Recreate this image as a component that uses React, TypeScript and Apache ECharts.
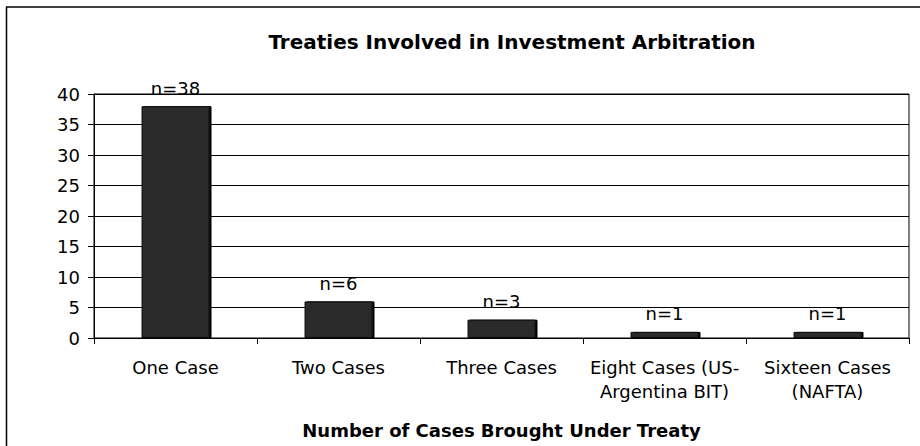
import React, { useEffect, useRef } from "react";
import * as echarts from "echarts";

const categories = [
  "One Case",
  "Two Cases",
  "Three Cases",
  "Eight Cases (US-\nArgentina BIT)",
  "Sixteen Cases\n(NAFTA)",
];
const values = [38, 6, 3, 1, 1];
const yTicks = { min: 0, max: 40, interval: 5 };
const titleText = "Treaties Involved in Investment Arbitration";
const xAxisName = "Number of Cases Brought Under Treaty";

const FONT = "'DejaVu Sans', Verdana, sans-serif";

export default function App() {
  const ref = useRef<HTMLDivElement>(null);
  useEffect(() => {
    if (!ref.current) return;
    const chart = echarts.init(ref.current, undefined, { renderer: "svg" });
    chart.setOption({
      animation: false,
      backgroundColor: "#fff",
      textStyle: { fontFamily: FONT },
      title: {
        text: titleText,
        left: 507,
        textAlign: "center",
        top: 27,
        textStyle: { fontFamily: FONT, fontSize: 20, fontWeight: "bold", color: "#000" },
      },
      graphic: [
        { type: "line", shape: { x1: 6, y1: 7, x2: 920, y2: 7 }, style: { stroke: "#000", lineWidth: 1.5 } },
        { type: "line", shape: { x1: 6.5, y1: 7, x2: 6.5, y2: 446 }, style: { stroke: "#000", lineWidth: 1.5 } },
      ],
      grid: {
        left: 94,
        right: 11,
        top: 94,
        bottom: 108,
        show: true,
        borderColor: "#000",
        borderWidth: 1,
      },
      xAxis: {
        type: "category",
        data: categories,
        name: xAxisName,
        nameLocation: "middle",
        nameGap: 83,
        nameTextStyle: { fontFamily: FONT, fontSize: 18, fontWeight: "bold", color: "#000" },
        axisLine: { show: true, lineStyle: { color: "#000", width: 1 } },
        axisTick: { show: true, length: 6, lineStyle: { color: "#000" } },
        axisLabel: {
          fontFamily: FONT,
          fontSize: 18,
          color: "#000",
          margin: 17,
          lineHeight: 24,
          interval: 0,
        },
      },
      yAxis: {
        type: "value",
        min: yTicks.min,
        max: yTicks.max,
        interval: yTicks.interval,
        axisLine: { show: true, lineStyle: { color: "#000", width: 1 } },
        axisTick: { show: true, length: 6, lineStyle: { color: "#000" } },
        axisLabel: { fontFamily: FONT, fontSize: 18, color: "#000", margin: 14 },
        splitLine: { show: true, lineStyle: { color: "#000", width: 1 } },
      },
      series: [
        {
          type: "bar",
          data: values,
          barWidth: 68,
          itemStyle: {
            color: "#2a2a2a",
            borderColor: "#111",
            borderWidth: 1,
            shadowColor: "#000",
            shadowOffsetX: 2,
            shadowOffsetY: 0,
            shadowBlur: 0,
          },
          label: {
            show: true,
            position: "top",
            distance: 9,
            formatter: (p: any) => "n=" + p.value,
            fontFamily: FONT,
            fontSize: 18,
            color: "#000",
          },
        },
      ],
    });
    return () => chart.dispose();
  }, []);
  return (
    <div
      ref={ref}
      style={{ position: "fixed", left: 0, top: 0, width: 920, height: 446 }}
    />
  );
}
